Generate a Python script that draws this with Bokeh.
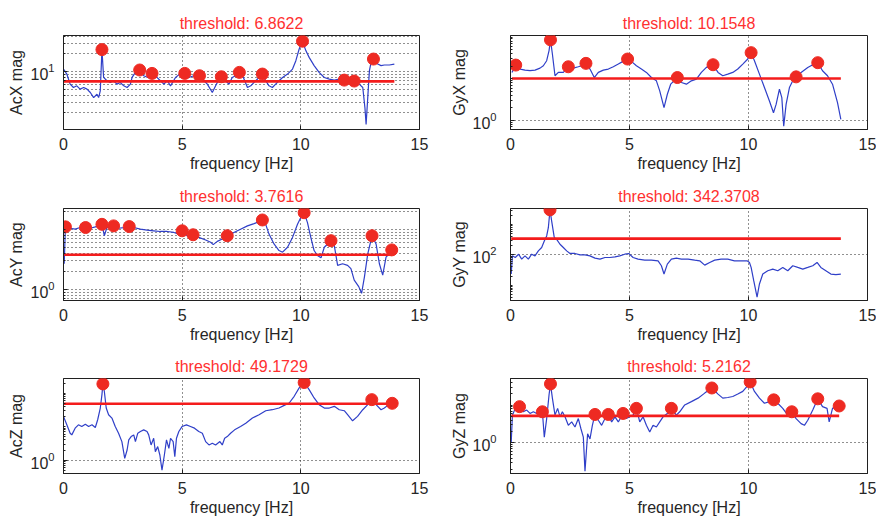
from bokeh.plotting import figure
from bokeh.models import Range1d, FixedTicker, LogTickFormatter
from bokeh.layouts import column, row
from bokeh.embed import file_html
from bokeh.resources import INLINE

FONT = "Liberation Sans"

# ---------------- data ----------------
acx_freq = [0, 0.14, 0.28, 0.42, 0.56, 0.70, 0.85, 0.99, 1.13, 1.27, 1.41, 1.48, 1.55, 1.62, 1.69, 1.83, 1.97, 2.11, 2.25, 2.39,
            2.54, 2.68, 2.82, 2.89, 3.03, 3.21, 3.38, 3.55, 3.73, 3.94, 4.08, 4.23, 4.37, 4.51, 4.72, 4.93, 5.11, 5.28, 5.49, 5.73,
            5.92, 6.06, 6.27, 6.41, 6.52, 6.65, 6.83, 6.97, 7.11, 7.25, 7.41, 7.58, 7.75, 7.89, 8.10, 8.24, 8.38, 8.52, 8.66, 8.80,
            8.94, 9.08, 9.23, 9.44, 9.65, 9.79, 9.93, 10.07, 10.21, 10.35, 10.56, 10.77, 10.99, 11.20, 11.41, 11.62, 11.83, 12.04,
            12.25, 12.46, 12.61, 12.70, 12.75, 12.82, 12.89, 12.96, 13.06, 13.24, 13.38, 13.52, 13.73, 13.94]
acx_mag = [11.1, 9.13, 6.17, 5.41, 5.77, 5.07, 5.41, 5.07, 4.45, 3.65, 4.16, 3.65, 4.75, 23.7, 8.0, 7.03, 6.58, 7.03, 6.17, 6.58,
           5.77, 5.41, 6.17, 8.0, 9.75, 10.7, 8.55, 8.0, 9.37, 8.0, 7.03, 6.17, 7.03, 5.77, 8.0, 9.37, 9.37, 8.0, 8.55, 8.55,
           7.03, 6.17, 4.45, 5.77, 7.03, 8.22, 7.03, 6.17, 8.0, 8.55, 9.75, 8.0, 5.41, 5.77, 7.03, 8.0, 9.13, 7.03, 5.77, 5.41,
           6.17, 7.03, 8.0, 9.13, 11.1, 15.4, 24.3, 32.9, 22.8, 17.5, 12.7, 9.75, 8.0, 7.5, 7.21, 7.5, 7.21, 6.58, 6.95, 6.17,
           5.41, 2.47, 1.28, 3.65, 10.4, 14.4, 16.4, 13.5, 12.7, 13.0, 13.0, 13.5]
acx_peak_freq = [1.62, 3.21, 3.73, 5.11, 5.73, 6.65, 7.41, 8.38, 10.07, 11.83, 12.25, 13.06]
acx_peak_mag = [23.7, 10.7, 9.37, 9.37, 8.55, 8.22, 9.75, 9.13, 32.9, 7.21, 6.95, 16.4]

gyx_freq = [0.06, 0.22, 0.41, 0.61, 0.82, 1.03, 1.24, 1.38, 1.52, 1.62, 1.68, 1.76, 1.87, 2.01, 2.22, 2.43, 2.64, 2.85, 2.99, 3.17,
            3.34, 3.52, 3.69, 3.90, 4.11, 4.32, 4.53, 4.73, 4.92, 5.08, 5.29, 5.50, 5.71, 5.92, 6.13, 6.27, 6.45, 6.59, 6.73, 6.87,
            7.01, 7.18, 7.39, 7.60, 7.81, 8.02, 8.23, 8.51, 8.72, 8.92, 9.13, 9.34, 9.55, 9.76, 9.97, 10.11, 10.25, 10.46, 10.67,
            10.88, 11.05, 11.16, 11.30, 11.40, 11.48, 11.58, 11.72, 11.86, 12.00, 12.21, 12.49, 12.70, 12.91, 13.11, 13.32, 13.53,
            13.74, 13.88]
gyx_mag = [14.2, 21.3, 17.1, 16.1, 15.6, 16.1, 18.0, 20.5, 27.1, 47.3, 85.6, 39.3, 11.8, 14.2, 14.2, 19.4, 18.0, 19.4, 20.5, 23.4,
           17.1, 10.7, 14.2, 16.1, 17.1, 19.4, 22.5, 26.1, 29.7, 26.1, 20.5, 17.1, 14.2, 10.7, 8.91, 5.11, 2.02, 4.25, 7.41, 8.91,
           10.7, 8.13, 7.41, 8.91, 9.78, 14.2, 18.7, 21.7, 14.2, 11.8, 12.9, 14.2, 17.1, 22.5, 29.7, 42.3, 27.1, 12.9, 6.15, 2.93,
           1.53, 2.43, 5.61, 3.53, 0.73, 2.43, 6.15, 8.91, 11.1, 14.2, 18.7, 21.7, 24.3, 15.6, 11.8, 7.41, 2.67, 1.06]
gyx_peak_freq = [0.22, 1.68, 2.43, 3.17, 4.92, 7.01, 8.51, 10.11, 12.00, 12.91]
gyx_peak_mag = [21.3, 85.6, 19.4, 23.4, 29.7, 10.7, 21.7, 42.3, 11.1, 24.3]

acy_freq = [0.03, 0.08, 0.28, 0.49, 0.70, 0.93, 1.13, 1.34, 1.48, 1.62, 1.72, 1.83, 2.11, 2.32, 2.54, 2.77, 2.96, 3.24, 3.52, 3.80,
            4.08, 4.37, 4.65, 4.86, 5.00, 5.21, 5.46, 5.70, 5.99, 6.20, 6.31, 6.48, 6.69, 6.90, 7.18, 7.46, 7.75, 8.03, 8.24, 8.38,
            8.52, 8.66, 8.87, 9.08, 9.23, 9.44, 9.65, 9.86, 10.03, 10.14, 10.28, 10.42, 10.56, 10.70, 10.85, 10.99, 11.13, 11.27,
            11.41, 11.55, 11.76, 11.97, 12.11, 12.25, 12.44, 12.56, 12.68, 12.82, 13.00, 13.17, 13.31, 13.45, 13.59, 13.73, 13.83]
acy_mag = [2.67, 10.98, 10.4, 10.05, 10.7, 10.7, 10.4, 10.98, 11.4, 12.1, 7.81, 10.7, 11.4, 10.4, 10.7, 11.1, 10.7, 10.05, 9.68, 9.44,
           9.2, 9.2, 8.86, 8.32, 9.44, 7.81, 8.11, 7.33, 6.63, 6.07, 5.56, 6.30, 6.89, 7.81, 8.86, 10.05, 11.4, 12.45, 13.4, 14.3,
           12.1, 8.32, 5.70, 4.43, 4.16, 5.02, 7.33, 12.1, 16.6, 18.9, 12.9, 7.33, 4.43, 3.66, 3.36, 5.02, 5.70, 6.46, 5.35, 2.51,
           2.67, 2.51, 2.21, 1.42, 1.11, 0.86, 1.61, 3.90, 7.81, 5.70, 2.67, 1.72, 3.44, 3.90, 4.54]
acy_peak_freq = [0.08, 0.93, 1.62, 2.11, 2.77, 5.00, 5.46, 6.90, 8.38, 10.14, 11.27, 13.00, 13.83]
acy_peak_mag = [10.98, 10.7, 12.1, 11.4, 11.1, 9.44, 8.11, 7.81, 14.3, 18.9, 6.46, 7.81, 4.54]

gyy_freq = [0.03, 0.08, 0.20, 0.34, 0.47, 0.61, 0.75, 0.89, 1.03, 1.17, 1.31, 1.42, 1.52, 1.59, 1.66, 1.73, 1.84, 1.94, 2.08, 2.22,
            2.36, 2.50, 2.71, 2.92, 3.13, 3.34, 3.55, 3.76, 3.97, 4.18, 4.39, 4.59, 4.80, 4.97, 5.15, 5.36, 5.64, 5.92, 6.20, 6.34,
            6.45, 6.59, 6.76, 6.97, 7.18, 7.46, 7.74, 7.95, 8.16, 8.37, 8.58, 8.85, 9.13, 9.41, 9.69, 9.94, 10.04, 10.11, 10.22,
            10.36, 10.46, 10.60, 10.81, 11.02, 11.23, 11.44, 11.65, 11.86, 12.07, 12.28, 12.49, 12.70, 12.88, 13.04, 13.25, 13.46,
            13.67, 13.88]
gyy_mag = [23.3, 92.7, 81.8, 105, 72.1, 92.7, 72.1, 105, 92.7, 135, 174, 287, 419, 784, 3040, 1294, 369, 325, 223, 174,
           135, 111, 111, 100, 100, 92.7, 77.8, 72.1, 81.8, 81.8, 86.0, 92.7, 105, 111, 81.8, 72.1, 66.9, 66.9, 63.6, 43.7,
           23.3, 49.5, 72.1, 77.8, 72.1, 72.1, 66.9, 63.6, 45.9, 56.1, 66.9, 72.1, 72.1, 63.6, 63.6, 63.6, 56.1, 38.5, 14.1, 4.02,
           11.0, 23.3, 30.0, 34.0, 30.0, 38.5, 30.0, 43.7, 38.5, 34.0, 38.5, 43.7, 56.1, 38.5, 30.0, 23.3, 22.2, 23.3]
gyy_peak_freq = [1.66]
gyy_peak_mag = [3040]

acz_freq = [0, 0.14, 0.28, 0.35, 0.49, 0.63, 0.77, 0.92, 1.06, 1.20, 1.34, 1.44, 1.55, 1.62, 1.66, 1.72, 1.80, 1.90, 2.04, 2.18,
            2.32, 2.46, 2.58, 2.68, 2.75, 2.85, 2.96, 3.03, 3.13, 3.24, 3.38, 3.52, 3.59, 3.69, 3.80, 3.87, 3.97, 4.06, 4.15, 4.25,
            4.34, 4.44, 4.51, 4.62, 4.69, 4.76, 4.86, 5.00, 5.18, 5.35, 5.52, 5.70, 5.85, 5.99, 6.13, 6.27, 6.41, 6.59, 6.69, 6.79,
            6.90, 7.04, 7.21, 7.46, 7.68, 7.96, 8.24, 8.52, 8.80, 9.08, 9.30, 9.51, 9.72, 9.93, 10.14, 10.35, 10.56, 10.77, 10.99,
            11.20, 11.41, 11.62, 11.83, 11.97, 12.18, 12.39, 12.61, 12.82, 12.99, 13.17, 13.38, 13.52, 13.66, 13.85]
acz_mag = [20.4, 11.4, 6.39, 5.69, 9.05, 11.4, 10.2, 11.95, 10.2, 11.4, 9.48, 16.2, 36.4, 92, 193, 116, 36.4, 22.9, 18.2, 10.2,
           6.39, 3.58, 1.12, 2.0, 4.02, 5.07, 5.69, 3.58, 6.39, 7.18, 8.06, 7.18, 5.69, 2.84, 4.51, 1.79, 2.53, 1.42, 0.499, 1.42,
           4.02, 2.25, 4.51, 3.58, 1.26, 4.51, 7.18, 10.2, 11.4, 10.2, 9.05, 7.18, 6.39, 3.58, 2.84, 3.19, 2.84, 3.58, 2.84, 4.51,
           5.07, 6.39, 8.06, 10.2, 12.8, 18.2, 22.9, 30.2, 32.4, 36.4, 43.8, 51.5, 81.9, 146, 212, 130, 73.0, 45.9, 36.4, 36.4,
           40.9, 32.4, 30.2, 22.9, 15.1, 20.4, 32.4, 45.9, 65.0, 45.9, 32.4, 36.4, 43.8, 50.4]
acz_peak_freq = [1.66, 10.14, 12.99, 13.85]
acz_peak_mag = [193, 212, 65.0, 50.4]

gyz_freq = [0.03, 0.08, 0.20, 0.38, 0.54, 0.68, 0.82, 0.96, 1.10, 1.24, 1.34, 1.42, 1.52, 1.62, 1.68, 1.76, 1.87, 1.98, 2.08, 2.18,
            2.29, 2.43, 2.57, 2.71, 2.85, 2.96, 3.06, 3.13, 3.24, 3.34, 3.44, 3.55, 3.69, 3.83, 3.97, 4.11, 4.25, 4.39, 4.53, 4.73,
            4.87, 5.01, 5.15, 5.29, 5.43, 5.57, 5.71, 5.85, 5.99, 6.13, 6.27, 6.41, 6.59, 6.76, 6.97, 7.11, 7.32, 7.60, 7.88, 8.16,
            8.46, 8.72, 8.92, 9.13, 9.34, 9.55, 9.76, 9.94, 10.07, 10.25, 10.46, 10.67, 10.88, 11.06, 11.23, 11.44, 11.65, 11.82,
            12.00, 12.21, 12.35, 12.49, 12.70, 12.91, 13.11, 13.30, 13.39, 13.53, 13.67, 13.81]
gyz_mag = [1.04, 5.44, 8.22, 9.12, 6.68, 7.41, 6.03, 6.68, 6.03, 6.41, 6.68, 1.42, 4.42, 18.8, 36.4, 15.3, 5.44, 8.22, 4.91, 6.68,
           4.91, 2.93, 3.60, 2.64, 4.42, 2.38, 1.42, 0.180, 1.75, 1.28, 2.93, 5.67, 3.99, 2.93, 4.42, 5.67, 3.60, 4.91, 3.60, 6.03,
           4.42, 4.91, 5.44, 8.22, 3.60, 4.91, 2.93, 1.94, 2.93, 2.64, 3.60, 4.91, 6.03, 8.22, 5.44, 6.68, 10.1, 12.4, 15.3, 20.8,
           28.4, 19.6, 15.3, 15.9, 16.9, 19.6, 23.1, 31.5, 41.1, 23.1, 15.3, 11.2, 12.4, 13.8, 11.2, 8.22, 5.44, 6.68, 4.42, 3.24,
           2.93, 3.99, 7.41, 14.7, 9.12, 8.22, 3.60, 8.22, 9.12, 9.5]
gyz_peak_freq = [0.38, 1.34, 1.68, 3.55, 4.11, 4.73, 5.29, 6.76, 8.46, 10.07, 11.06, 11.82, 12.91, 13.81]
gyz_peak_mag = [9.12, 6.68, 36.4, 5.67, 5.67, 6.03, 8.22, 8.22, 28.4, 41.1, 13.8, 6.68, 14.7, 9.5]

sensor_names = ["AcX", "GyX", "AcY", "GyY", "AcZ", "GyZ"]
threshold_values = [6.8622, 10.1548, 3.7616, 342.3708, 49.1729, 5.2162]
threshold_labels = ["6.8622", "10.1548", "3.7616", "342.3708", "49.1729", "5.2162"]
y_limits = [(1.05, 41.1), (0.607, 109), (0.652, 22.2), (3.13, 3365), (0.395, 280), (0.156, 50.6)]
y_labelled_ticks = [[10], [1], [1], [100], [1], [1]]
x_ticks = [0, 5, 10, 15]
x_label = "frequency [Hz]"

series = [
    (acx_freq, acx_mag, acx_peak_freq, acx_peak_mag),
    (gyx_freq, gyx_mag, gyx_peak_freq, gyx_peak_mag),
    (acy_freq, acy_mag, acy_peak_freq, acy_peak_mag),
    (gyy_freq, gyy_mag, gyy_peak_freq, gyy_peak_mag),
    (acz_freq, acz_mag, acz_peak_freq, acz_peak_mag),
    (gyz_freq, gyz_mag, gyz_peak_freq, gyz_peak_mag),
]

# ---------------- styling / layout ----------------
BLUE = "#2f3fc8"
RED_LINE = "#f41c1c"
RED_DOT = "#ee2a22"
TITLE_RED = "#ff3030"
TEXT = "#262626"
MINOR_GRID = [True, False, True, False, False, False]

ROW_H = [181, 170, 170]
ROW_TOP = [35, 27, 27]
ROW_BOTTOM = [52, 51, 48]
COL_W = [440, 436]
COL_LEFT = [63, 70]
COL_RIGHT = [21, 9]
LABEL_STANDOFF = [9, 14]
AXLABEL_STANDOFF = [2, 1]


def minor_ticks(lo, hi, majors):
    out = []
    for e in range(-2, 5):
        for k in range(1, 10):
            v = k * 10.0 ** e
            if lo <= v <= hi and v not in majors:
                out.append(v)
    return out


def make_panel(i):
    r, c = divmod(i, 2)
    freq, mag, pf, pm = series[i]
    lo, hi = y_limits[i]
    p = figure(width=COL_W[c], height=ROW_H[r],
               x_range=Range1d(0, 15), y_range=Range1d(lo, hi), y_axis_type="log",
               toolbar_location=None, output_backend="svg",
               min_border_left=COL_LEFT[c], min_border_right=COL_RIGHT[c],
               min_border_top=ROW_TOP[r], min_border_bottom=ROW_BOTTOM[r],
               title="threshold: " + threshold_labels[i])
    p.background_fill_color = "white"
    p.border_fill_color = "white"
    p.outline_line_color = "#202020"
    p.outline_line_width = 1

    t = p.title
    t.align = "center"
    t.text_font = FONT
    t.text_font_size = "16px"
    t.text_font_style = "normal"
    t.text_color = TITLE_RED
    t.standoff = 8

    xa = p.xaxis[0]
    xa.ticker = FixedTicker(ticks=x_ticks, minor_ticks=[])
    xa.axis_label = x_label
    ya = p.yaxis[0]
    ya.ticker = FixedTicker(ticks=y_labelled_ticks[i],
                            minor_ticks=minor_ticks(lo, hi, y_labelled_ticks[i]))
    ya.formatter = LogTickFormatter()
    ya.axis_label = sensor_names[i] + " mag"
    for ax in (xa, ya):
        ax.axis_label_text_font = FONT
        ax.axis_label_text_font_size = "16px"
        ax.axis_label_text_font_style = "normal"
        ax.axis_label_text_color = TEXT
        ax.major_label_text_font = FONT
        ax.major_label_text_font_size = "16px"
        ax.major_label_text_color = TEXT
        ax.axis_line_color = "#202020"
        ax.major_tick_in = 4
        ax.major_tick_out = 0
        ax.major_tick_line_color = "#202020"
        ax.minor_tick_in = 2
        ax.minor_tick_out = 0
        ax.minor_tick_line_color = "#202020"
    xa.major_label_standoff = 8
    xa.axis_label_standoff = 2
    ya.major_label_standoff = LABEL_STANDOFF[c]
    ya.axis_label_standoff = AXLABEL_STANDOFF[c]

    p.xgrid.grid_line_color = "#202020"
    p.xgrid.grid_line_dash = "1 3"
    p.ygrid.grid_line_color = "#202020"
    p.ygrid.grid_line_dash = "1 3"
    if MINOR_GRID[i]:
        p.ygrid.minor_grid_line_color = "#202020"
        p.ygrid.minor_grid_line_dash = "1 3"
    else:
        p.ygrid.minor_grid_line_color = None

    p.line(freq, mag, line_color=BLUE, line_width=1.2)
    thr = threshold_values[i]
    p.line([freq[0], freq[-1]], [thr, thr], line_color=RED_LINE, line_width=2.6)
    p.scatter(pf, pm, size=12, fill_color=RED_DOT, line_color=RED_DOT)
    return p


panels = [make_panel(i) for i in range(6)]
layout = column(row(panels[0], panels[1], spacing=0),
                row(panels[2], panels[3], spacing=0),
                row(panels[4], panels[5], spacing=0), spacing=0)

open("out.html", "w").write(file_html(layout, INLINE))
